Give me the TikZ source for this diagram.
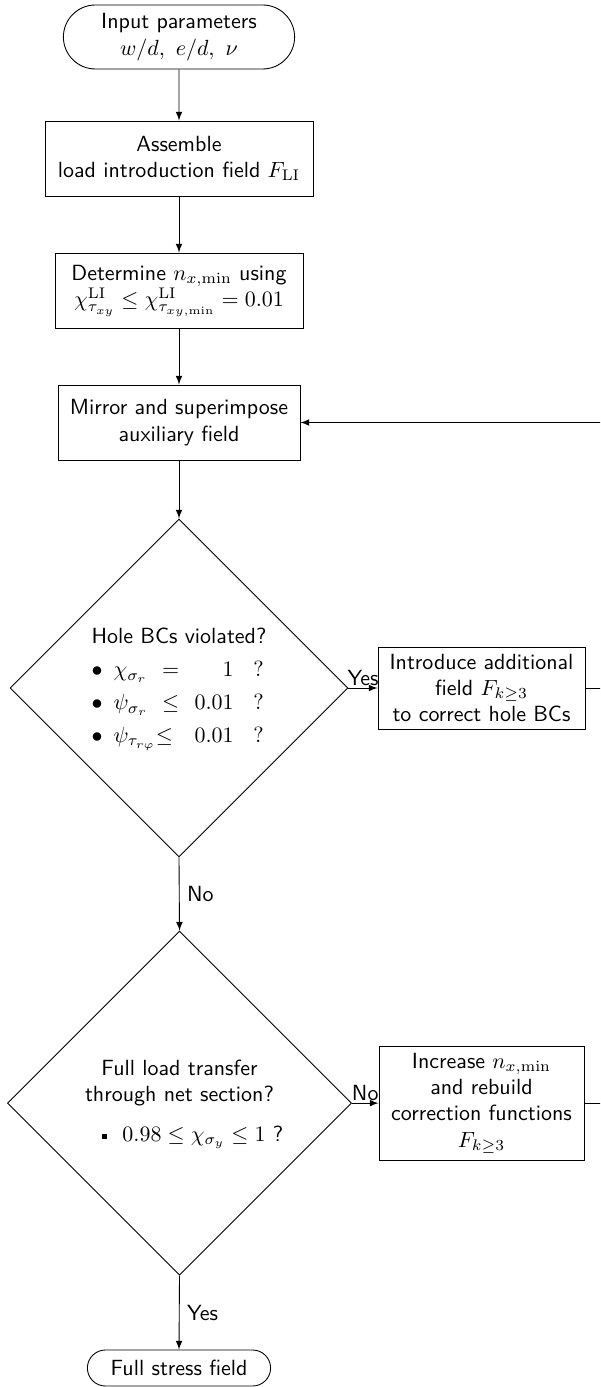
\documentclass[tikz,border=0pt]{standalone}
\usepackage{amsmath}
\usetikzlibrary{shapes.geometric,shapes.misc}

\begin{document}
\begin{tikzpicture}[
	every node/.style={font=\sffamily},
	box/.style={draw, rectangle, align=center, inner sep=2pt},
	term/.style={draw, rounded rectangle, align=center, inner sep=2pt},
	decision/.style={draw, diamond, aspect=1, inner sep=0pt, align=center},
	flow/.style={draw, -latex},
	]
		%%%%% START %%%%%
		
		\useasboundingbox (0, 0) rectangle (9.6, -22.192);
		\clip (0, 0) rectangle (9.6, -22.192);
		
		\node[term, minimum width=3.84cm, minimum height=1.024cm] (input) at (2.864, -0.592) {Input parameters\\ $w/d,\ e/d,\ \nu$};
		\node[box, minimum width=4.288cm, minimum height=1.2cm] (assemble) at (2.864, -2.536) {Assemble\\ load introduction field $F_{\mathrm{LI}}$};
		\node[box, minimum width=3.968cm, minimum height=1.2cm] (determine) at (2.864, -4.648) {Determine $n_{x,\min}$ using\\ $\chi^{\mathrm{LI}}_{\tau_{xy}} \leq \chi^{\mathrm{LI}}_{\tau_{xy,\min}} = 0.01$};
		\node[box, minimum width=3.872cm, minimum height=1.2cm] (mirror) at (2.864, -6.76) {Mirror and superimpose\\ auxiliary field};
		
		\node[decision, minimum size=5.408cm] (hole) at (2.864, -11.008) {%
			\begin{tabular}{@{}l@{\hspace{5pt}}l@{}l@{\hspace{7pt}}r@{\hspace{9pt}}l@{}}
				\multicolumn{5}{@{}c@{}}{Hole BCs violated?}\\[3pt]
				$\bullet$ & $\chi_{\sigma_r}$ & $\;=$ & $1$ & $?$\\[3pt]
				$\bullet$ & $\psi_{\sigma_r}$ & $\;\leq$ & $0.01$ & $?$\\[3pt]
				$\bullet$ & $\psi_{\tau_{r\varphi}}$ & $\leq$ & $0.01$ & $?$
			\end{tabular}};
		\node[box, minimum width=3.312cm, minimum height=1.312cm] (introduce) at (7.704, -11.008) {Introduce additional\\ field $F_{k\geq3}$\\ to correct hole BCs};
		
		\node[decision, minimum size=5.504cm] (transfer) at (2.872, -17.65) {%
			\begin{tabular}{@{}c@{}}
				Full load transfer\\
				through net section?\\[6pt]
				\hspace*{12pt}\raisebox{0.25ex}{\rule{2.3pt}{2.3pt}}\hspace{7pt}$0.98 \leq \chi_{\sigma_y} \leq 1$ ?
			\end{tabular}};
		\node[box, minimum width=3.28cm, minimum height=1.824cm] (increase) at (7.704, -17.65) {Increase $n_{x,\min}$\\ and rebuild\\ correction functions\\ $F_{k\geq3}$};
		
		\node[term, minimum width=3.072cm, minimum height=0.576cm] (stress) at (2.864, -21.888) {Full stress field};
		
		\coordinate (back) at (9.76, -6.76);
		
		\draw[flow] (input) -- (assemble);
		\draw[flow] (assemble) -- (determine);
		\draw[flow] (determine) -- (mirror);
		\draw[flow] (mirror) -- (hole);
		\draw[flow] (hole.east) -- node[above, inner sep=1pt] {Yes} (introduce.west);
		\draw[flow] (hole.south) -- node[right] {No} (transfer.north);
		\draw[flow] (transfer.east) -- node[above, inner sep=1pt] {No} (increase.west);
		\draw[flow] (transfer.south) -- node[right] {Yes} (stress.north);
		
		\draw (introduce.east) -| (back);
		\draw (increase.east) -| (back);
		\draw[flow] (back) -- (mirror.east);
		
		%%%%% END %%%%%
	\end{tikzpicture}
\end{document}
